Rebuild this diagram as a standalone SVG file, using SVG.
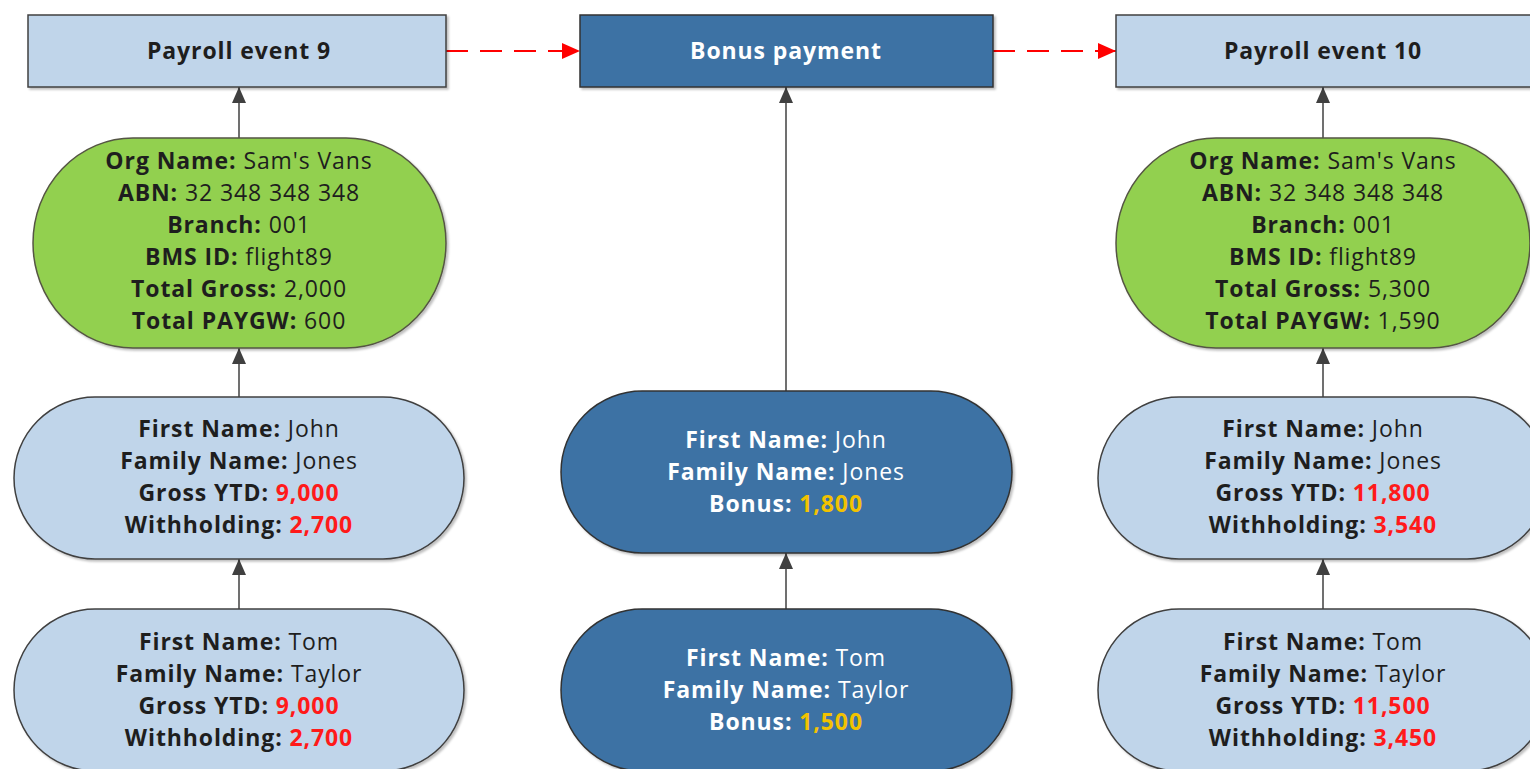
<svg xmlns="http://www.w3.org/2000/svg" width="1530" height="769" viewBox="0 0 1530 769">
  <style>
    text { font-family: "Open Sans", "Liberation Sans", Arial, sans-serif; font-size: 23px; letter-spacing: 0.9px; text-anchor: middle; fill: #1e1e1e; }
    .b { font-weight: bold; }
    .light { fill: #c0d5ea; stroke: #404040; stroke-width: 1.5; }
    .dark { fill: #3c72a4; stroke: #333333; stroke-width: 1.5; }
    .green { fill: #92d050; stroke: #555544; stroke-width: 1.5; }
    .w { fill: #ffffff; }
    .red { fill: #ff1a1a; font-weight: bold; }
    .gold { fill: #f2c200; font-weight: bold; }
    .flow { stroke: #404040; stroke-width: 1.5; fill: none; marker-end: url(#head); }
    .seq { stroke: #ff0000; stroke-width: 2; fill: none; stroke-dasharray: 22 12; marker-end: url(#redhead); }
  </style>
  <defs>
    <filter id="shadow" x="-5%" y="-5%" width="110%" height="115%">
      <feDropShadow dx="2" dy="2" stdDeviation="1.2" flood-color="#000000" flood-opacity="0.25"/>
    </filter>
    <marker id="head" markerUnits="userSpaceOnUse" markerWidth="16" markerHeight="16" refX="16" refY="7" orient="auto">
      <path d="M0,0 L16,7 L0,14 z" fill="#404040"/>
    </marker>
    <marker id="redhead" markerUnits="userSpaceOnUse" markerWidth="18" markerHeight="16" refX="18" refY="8" orient="auto">
      <path d="M0,0 L18,8 L0,16 z" fill="#ff0000"/>
    </marker>
  </defs>

  <!-- connectors -->
  <g id="connectors">
    <line class="seq" x1="446" y1="51" x2="580" y2="51"/>
    <line class="seq" x1="993" y1="51" x2="1116" y2="51"/>
    <line class="flow" x1="239" y1="138" x2="239" y2="87"/>
    <line class="flow" x1="239" y1="397" x2="239" y2="348"/>
    <line class="flow" x1="239" y1="609" x2="239" y2="559"/>
    <line class="flow" x1="786" y1="391" x2="786" y2="87"/>
    <line class="flow" x1="786" y1="609" x2="786" y2="553"/>
    <line class="flow" x1="1323" y1="138" x2="1323" y2="87"/>
    <line class="flow" x1="1323" y1="397" x2="1323" y2="348"/>
    <line class="flow" x1="1323" y1="609" x2="1323" y2="559"/>
  </g>

  <!-- left column: payroll event 9 -->
  <g id="event9">
    <rect class="light" x="28" y="15" width="418" height="72" filter="url(#shadow)"/>
    <text class="b" x="239" y="59">Payroll event 9</text>
  </g>
  <g id="org9">
    <rect class="green" x="33" y="138" width="413" height="210" rx="100" ry="105" filter="url(#shadow)"/>
    <text x="239" y="169"><tspan class="b">Org Name:</tspan> Sam's Vans</text>
    <text x="239" y="201"><tspan class="b">ABN:</tspan> 32 348 348 348</text>
    <text x="239" y="233"><tspan class="b">Branch:</tspan> 001</text>
    <text x="239" y="265"><tspan class="b">BMS ID:</tspan> flight89</text>
    <text x="239" y="297"><tspan class="b">Total Gross:</tspan> 2,000</text>
    <text x="239" y="329"><tspan class="b">Total PAYGW:</tspan> 600</text>
  </g>
  <g id="john9">
    <rect class="light" x="14" y="397" width="450" height="162" rx="81" ry="81" filter="url(#shadow)"/>
    <text x="239" y="437"><tspan class="b">First Name:</tspan> John</text>
    <text x="239" y="469"><tspan class="b">Family Name:</tspan> Jones</text>
    <text x="239" y="501"><tspan class="b">Gross YTD: </tspan><tspan class="red">9,000</tspan></text>
    <text x="239" y="533"><tspan class="b">Withholding: </tspan><tspan class="red">2,700</tspan></text>
  </g>
  <g id="tom9">
    <rect class="light" x="14" y="609" width="450" height="162" rx="81" ry="81" filter="url(#shadow)"/>
    <text x="239" y="650"><tspan class="b">First Name:</tspan> Tom</text>
    <text x="239" y="682"><tspan class="b">Family Name:</tspan> Taylor</text>
    <text x="239" y="714"><tspan class="b">Gross YTD: </tspan><tspan class="red">9,000</tspan></text>
    <text x="239" y="746"><tspan class="b">Withholding: </tspan><tspan class="red">2,700</tspan></text>
  </g>

  <!-- centre column: bonus payment -->
  <g id="bonus">
    <rect class="dark" x="580" y="15" width="413" height="72" filter="url(#shadow)"/>
    <text class="b w" x="786" y="59">Bonus payment</text>
  </g>
  <g id="johnBonus">
    <rect class="dark" x="561" y="391" width="451" height="162" rx="81" ry="81" filter="url(#shadow)"/>
    <text class="w" x="786" y="448"><tspan class="b">First Name:</tspan> John</text>
    <text class="w" x="786" y="480"><tspan class="b">Family Name:</tspan> Jones</text>
    <text class="w" x="786" y="512"><tspan class="b">Bonus: </tspan><tspan class="gold">1,800</tspan></text>
  </g>
  <g id="tomBonus">
    <rect class="dark" x="561" y="609" width="451" height="162" rx="81" ry="81" filter="url(#shadow)"/>
    <text class="w" x="786" y="666"><tspan class="b">First Name:</tspan> Tom</text>
    <text class="w" x="786" y="698"><tspan class="b">Family Name:</tspan> Taylor</text>
    <text class="w" x="786" y="730"><tspan class="b">Bonus: </tspan><tspan class="gold">1,500</tspan></text>
  </g>

  <!-- right column: payroll event 10 -->
  <g id="event10">
    <rect class="light" x="1116" y="15" width="418" height="72" filter="url(#shadow)"/>
    <text class="b" x="1323" y="59">Payroll event 10</text>
  </g>
  <g id="org10">
    <rect class="green" x="1116" y="138" width="414" height="210" rx="100" ry="105" filter="url(#shadow)"/>
    <text x="1323" y="169"><tspan class="b">Org Name:</tspan> Sam's Vans</text>
    <text x="1323" y="201"><tspan class="b">ABN:</tspan> 32 348 348 348</text>
    <text x="1323" y="233"><tspan class="b">Branch:</tspan> 001</text>
    <text x="1323" y="265"><tspan class="b">BMS ID:</tspan> flight89</text>
    <text x="1323" y="297"><tspan class="b">Total Gross:</tspan> 5,300</text>
    <text x="1323" y="329"><tspan class="b">Total PAYGW:</tspan> 1,590</text>
  </g>
  <g id="john10">
    <rect class="light" x="1098" y="397" width="450" height="162" rx="81" ry="81" filter="url(#shadow)"/>
    <text x="1323" y="437"><tspan class="b">First Name:</tspan> John</text>
    <text x="1323" y="469"><tspan class="b">Family Name:</tspan> Jones</text>
    <text x="1323" y="501"><tspan class="b">Gross YTD: </tspan><tspan class="red">11,800</tspan></text>
    <text x="1323" y="533"><tspan class="b">Withholding: </tspan><tspan class="red">3,540</tspan></text>
  </g>
  <g id="tom10">
    <rect class="light" x="1098" y="609" width="450" height="162" rx="81" ry="81" filter="url(#shadow)"/>
    <text x="1323" y="650"><tspan class="b">First Name:</tspan> Tom</text>
    <text x="1323" y="682"><tspan class="b">Family Name:</tspan> Taylor</text>
    <text x="1323" y="714"><tspan class="b">Gross YTD: </tspan><tspan class="red">11,500</tspan></text>
    <text x="1323" y="746"><tspan class="b">Withholding: </tspan><tspan class="red">3,450</tspan></text>
  </g>
</svg>
